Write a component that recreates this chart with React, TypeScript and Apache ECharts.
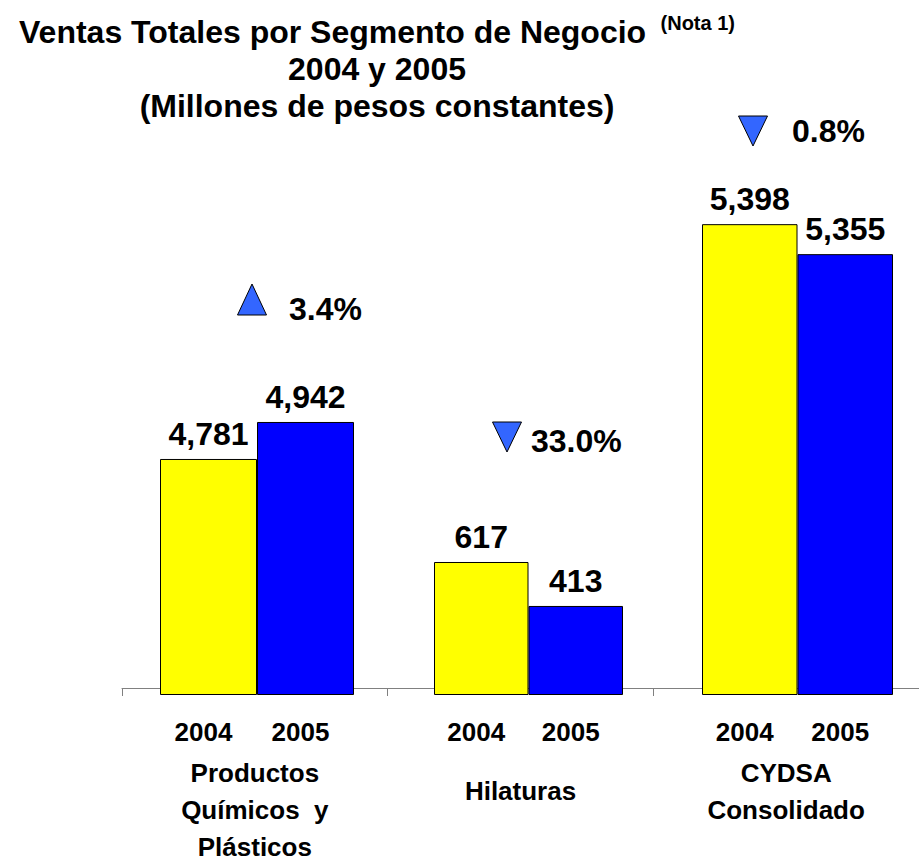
import React, { useEffect, useRef } from 'react';
import * as echarts from 'echarts';

// ---- Data ----
const segments = ['Productos\nQuímicos  y\nPlásticos', 'Hilaturas', 'CYDSA\nConsolidado'];
const years = ['2004', '2005'];
const sales2004 = [4781, 617, 5398];
const sales2005 = [4942, 413, 5355];
const changeLabels = ['3.4%', '33.0%', '0.8%'];
const changeDirections = ['up', 'down', 'down'];
// each segment was drawn on its own value scale in the original
const axisMins = [3754, 0, 4723];
const axisMaxs = [6343, 2760, 5576];

// ---- Layout / style ----
const FONT = "'Liberation Sans', Arial, Helvetica, sans-serif";
const GRID_TOP = 100;
const GRID_BOTTOM = 170;
const subLeft = [160, 434, 702];
const subWidth = [194, 189, 191];
const annot = [
  { cx: 252, top: 284, bottom: 315, tx: 289, ty: 309 },
  { cx: 507, top: 422, bottom: 452, tx: 531, ty: 441 },
  { cx: 753, top: 116, bottom: 146, tx: 792, ty: 131 },
];

export default function App() {
  const ref = useRef<HTMLDivElement>(null);

  useEffect(() => {
    if (!ref.current) return;
    const chart = echarts.init(ref.current, undefined, { renderer: 'svg' });

    const grids: any[] = [{ left: 122, width: 809, top: GRID_TOP, bottom: GRID_BOTTOM }];
    const xAxes: any[] = [
      {
        type: 'category',
        gridIndex: 0,
        data: segments,
        axisLine: { onZero: false, lineStyle: { color: '#808080', width: 1 } },
        axisTick: { show: true, length: 8, lineStyle: { color: '#808080' } },
        axisLabel: {
          interval: 0,
          margin: 66,
          fontSize: 26,
          fontWeight: 'bold',
          fontFamily: FONT,
          color: '#000',
          lineHeight: 37,
          formatter: (v: string) => (v.indexOf('\n') < 0 ? '{h|' + v + '}' : v),
          rich: {
            h: { fontSize: 26, fontWeight: 'bold', fontFamily: FONT, color: '#000', lineHeight: 74 },
          },
        },
      },
    ];
    const yAxes: any[] = [{ type: 'value', gridIndex: 0, min: 0, max: 1, show: false }];
    const series: any[] = [];

    for (let i = 0; i < segments.length; i++) {
      grids.push({ left: subLeft[i], width: subWidth[i], top: GRID_TOP, bottom: GRID_BOTTOM });
      xAxes.push({
        type: 'category',
        gridIndex: i + 1,
        data: years,
        axisLine: { show: false, onZero: false },
        axisTick: { show: false },
        axisLabel: {
          margin: 24,
          fontSize: 26,
          fontWeight: 'bold',
          fontFamily: FONT,
          color: '#000',
          padding: [0, 10, 0, 0],
        },
      });
      yAxes.push({
        type: 'value',
        gridIndex: i + 1,
        min: axisMins[i],
        max: axisMaxs[i],
        startValue: axisMins[i],
        show: false,
        splitLine: { show: false },
      });
      series.push({
        type: 'bar',
        name: segments[i].replace(/\n/g, ' '),
        xAxisIndex: i + 1,
        yAxisIndex: i + 1,
        barCategoryGap: '0%',
        clip: true,
        silent: true,
        itemStyle: { borderColor: '#000', borderWidth: 1 },
        data: [
          { value: sales2004[i], itemStyle: { color: '#FFFF00' } },
          { value: sales2005[i], itemStyle: { color: '#0000FF' } },
        ],
        label: {
          show: true,
          position: 'top',
          distance: 9,
          fontSize: 32,
          fontWeight: 'bold',
          fontFamily: FONT,
          color: '#000',
          formatter: (p: any) => Number(p.value).toLocaleString('en-US'),
        },
      });
    }

    const graphics: any[] = [];
    annot.forEach((a, i) => {
      const up = changeDirections[i] === 'up';
      const hw = 14.5;
      const points = up
        ? [[a.cx - hw, a.bottom], [a.cx + hw, a.bottom], [a.cx, a.top]]
        : [[a.cx - hw, a.top], [a.cx + hw, a.top], [a.cx, a.bottom]];
      graphics.push({
        type: 'polygon',
        shape: { points },
        style: { fill: '#3366FF', stroke: '#000', lineWidth: 1 },
        silent: true,
      });
      graphics.push({
        type: 'text',
        x: a.tx,
        y: a.ty,
        style: {
          text: changeLabels[i],
          fontSize: 32,
          fontWeight: 'bold',
          fontFamily: FONT,
          fill: '#000',
          align: 'left',
          verticalAlign: 'middle',
        },
        silent: true,
      });
    });

    chart.setOption({
      animation: false,
      backgroundColor: '#ffffff',
      title: {
        text:
          '{m|Ventas Totales por Segmento de Negocio }{s| (Nota 1)}\n2004 y 2005\n(Millones de pesos constantes)',
        left: 372,
        top: 8,
        textAlign: 'center',
        textStyle: {
          fontSize: 32,
          fontWeight: 'bold',
          fontFamily: FONT,
          color: '#000',
          lineHeight: 37,
          rich: {
            m: { fontSize: 32, fontWeight: 'bold', fontFamily: FONT, color: '#000', lineHeight: 37 },
            s: { fontSize: 20, fontWeight: 'bold', fontFamily: FONT, color: '#000', lineHeight: 20, verticalAlign: 'top' },
          },
        },
      },
      grid: grids,
      xAxis: xAxes,
      yAxis: yAxes,
      series,
      graphic: graphics,
    });

    return () => chart.dispose();
  }, []);

  return (
    <div
      ref={ref}
      style={{ position: 'fixed', left: 0, top: 0, width: 919, height: 865, background: '#fff' }}
    />
  );
}
